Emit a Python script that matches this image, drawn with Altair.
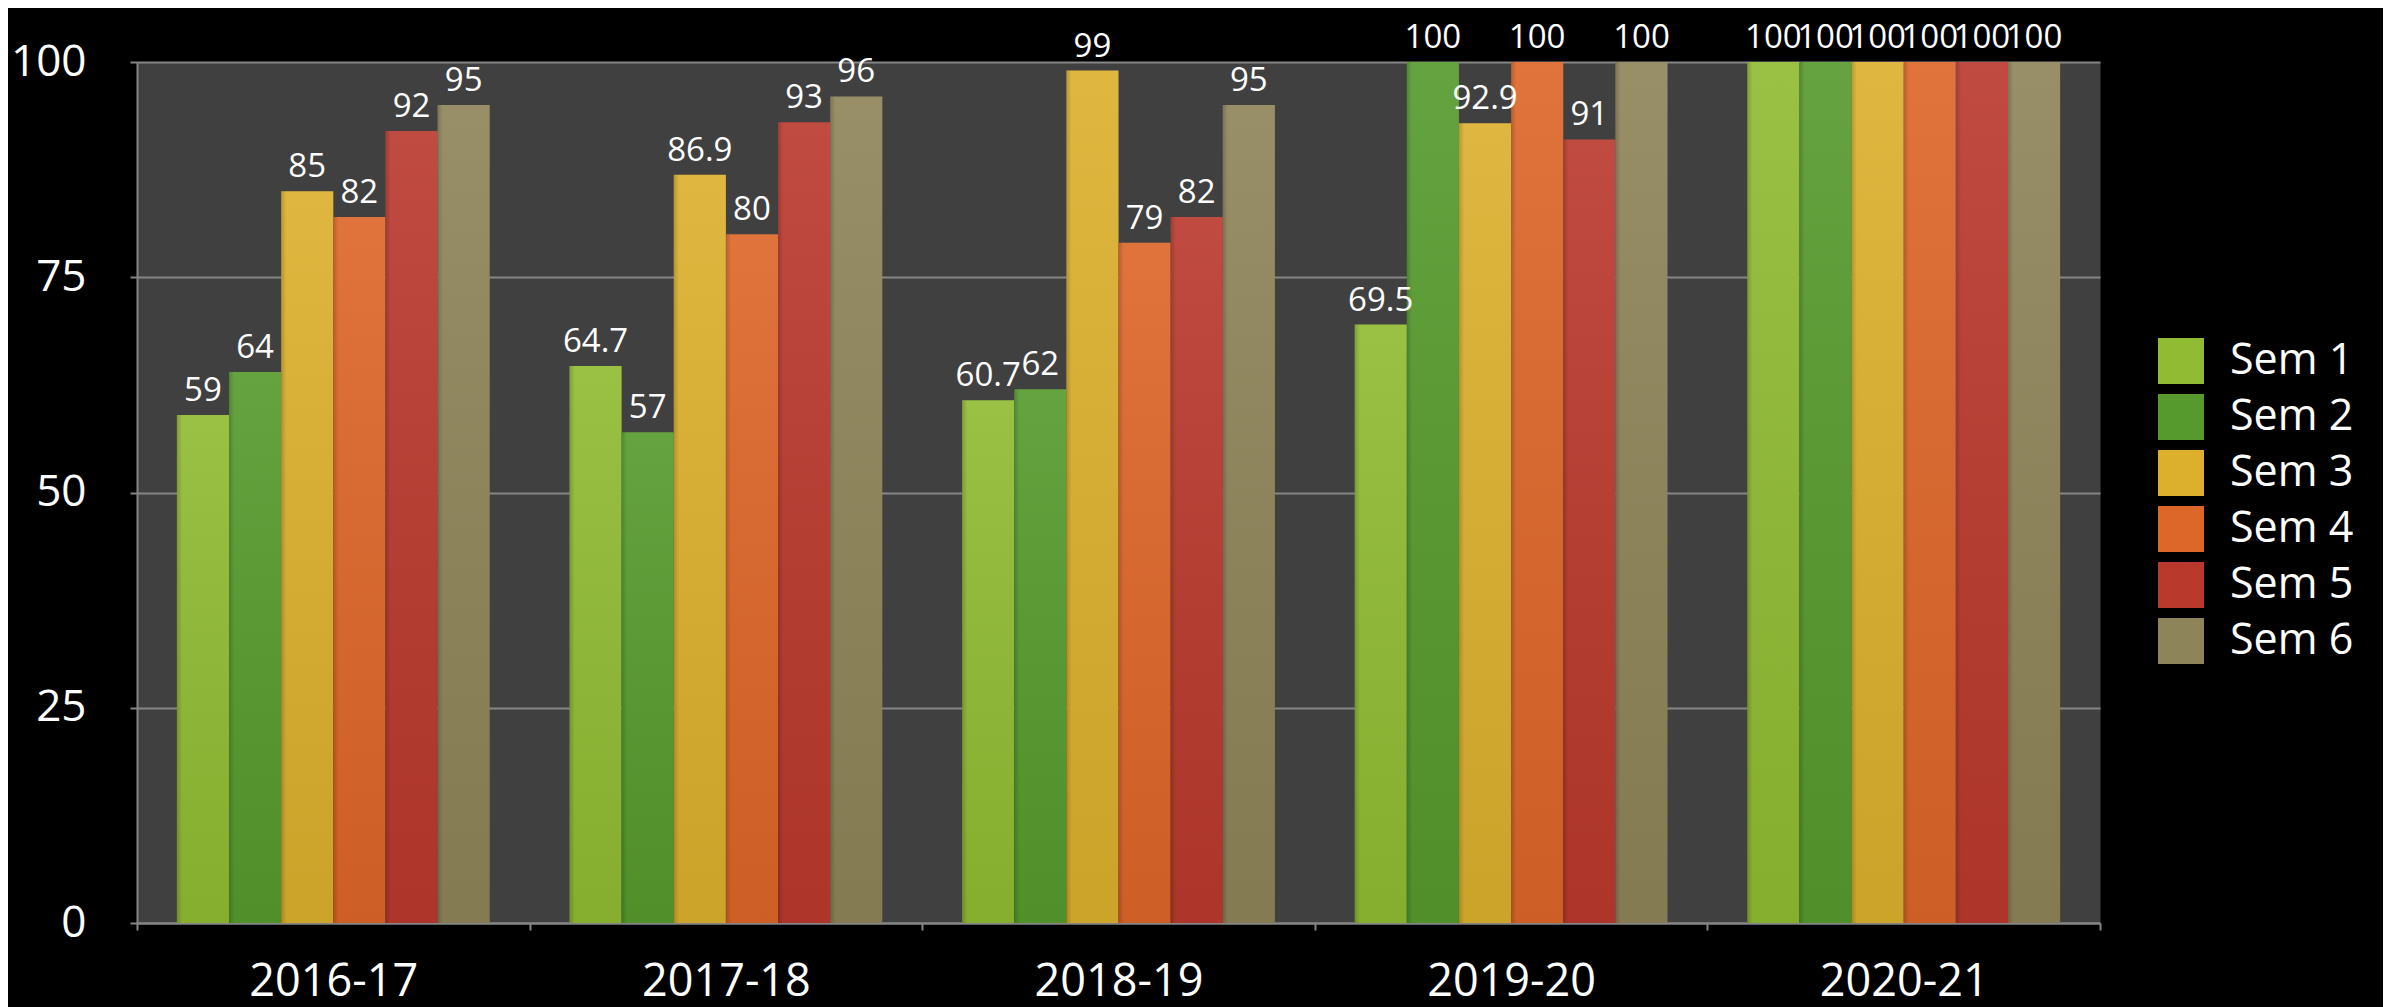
import altair as alt
import pandas as pd

years = ["2016-17", "2017-18", "2018-19", "2019-20", "2020-21"]
semesters = ["Sem 1", "Sem 2", "Sem 3", "Sem 4", "Sem 5", "Sem 6"]
sem1 = [59, 64.7, 60.7, 69.5, 100]
sem2 = [64, 57, 62, 100, 100]
sem3 = [85, 86.9, 99, 92.9, 100]
sem4 = [82, 80, 79, 100, 100]
sem5 = [92, 93, 82, 91, 100]
sem6 = [95, 96, 95, 100, 100]
colors = ["#90BB32", "#569A2D", "#DCB02D", "#DD6629", "#BA392D", "#8E8459"]
y_ticks = [0, 25, 50, 75, 100]

rows = []
for s, vals in zip(semesters, [sem1, sem2, sem3, sem4, sem5, sem6]):
    for yr, v in zip(years, vals):
        rows.append({"year": yr, "sem": s, "value": v, "label": f"{v:g}"})
df = pd.DataFrame(rows)

FONT = "Open Sans"
GRID = "#868686"

x = alt.X(
    "year:N", sort=years,
    scale=alt.Scale(paddingInner=0, paddingOuter=0),
    axis=alt.Axis(title=None, labelAngle=0, labelFontSize=45, labelColor="white",
                  labelFont=FONT, tickBand="extent", tickSize=7, tickColor=GRID,
                  tickWidth=2, domainColor=GRID, domainWidth=2, labelPadding=29,
                  grid=False),
)
xo = alt.XOffset("sem:N", sort=semesters,
                 scale=alt.Scale(paddingInner=0, paddingOuter=0.765))
y = alt.Y(
    "value:Q",
    scale=alt.Scale(domain=[0, 100], nice=False),
    axis=alt.Axis(values=y_ticks, title=None, labelFontSize=44, labelColor="white",
                  labelFont=FONT, tickSize=7, tickColor=GRID, tickWidth=2,
                  domainColor=GRID, domainWidth=2, labelPadding=44,
                  grid=True, gridColor=GRID, gridWidth=2),
)
color = alt.Color(
    "sem:N", sort=semesters,
    scale=alt.Scale(domain=semesters, range=colors),
    legend=alt.Legend(title=None, orient="none", legendX=2021, legendY=276,
                      symbolType="square", symbolSize=2116, symbolStrokeWidth=0,
                      labelFontSize=43, labelColor="white", labelFont=FONT,
                      labelOffset=26, rowPadding=10, padding=0, clipHeight=46,
                      labelLimit=300),
)

bars = alt.Chart(df).mark_bar().encode(x=x, xOffset=xo, y=y, color=color)

vshade = alt.Chart(df).mark_bar(
    fill=alt.Gradient(
        gradient="linear", x1=0, x2=0, y1=0, y2=1,
        stops=[alt.GradientStop(color="rgba(255,255,255,0.09)", offset=0),
               alt.GradientStop(color="rgba(0,0,0,0.07)", offset=1)],
    )
).encode(x=x, xOffset=xo, y=y)

hshade = alt.Chart(df).mark_bar(
    fill=alt.Gradient(
        gradient="linear", x1=0, x2=1, y1=0, y2=0,
        stops=[alt.GradientStop(color="rgba(0,0,0,0.18)", offset=0),
               alt.GradientStop(color="rgba(0,0,0,0)", offset=0.1)],
    )
).encode(x=x, xOffset=xo, y=y)

labels = alt.Chart(df).mark_text(
    dy=-14, baseline="alphabetic", align="center", fontSize=33,
    color="white", font=FONT,
).encode(x=x, xOffset=xo, y=y, text="label:N")

chart = (
    alt.layer(bars, vshade, hshade, labels)
    .properties(
        width=1963, height=861,
        autosize=alt.AutoSizeParams(type="none"),
        padding={"left": 129, "top": 54, "right": 283, "bottom": 84},
        background="black",
    )
    .configure_view(fill="#404040", strokeOpacity=0)
)

chart.save("out.html", embed_options={"renderer": "svg", "actions": False})
